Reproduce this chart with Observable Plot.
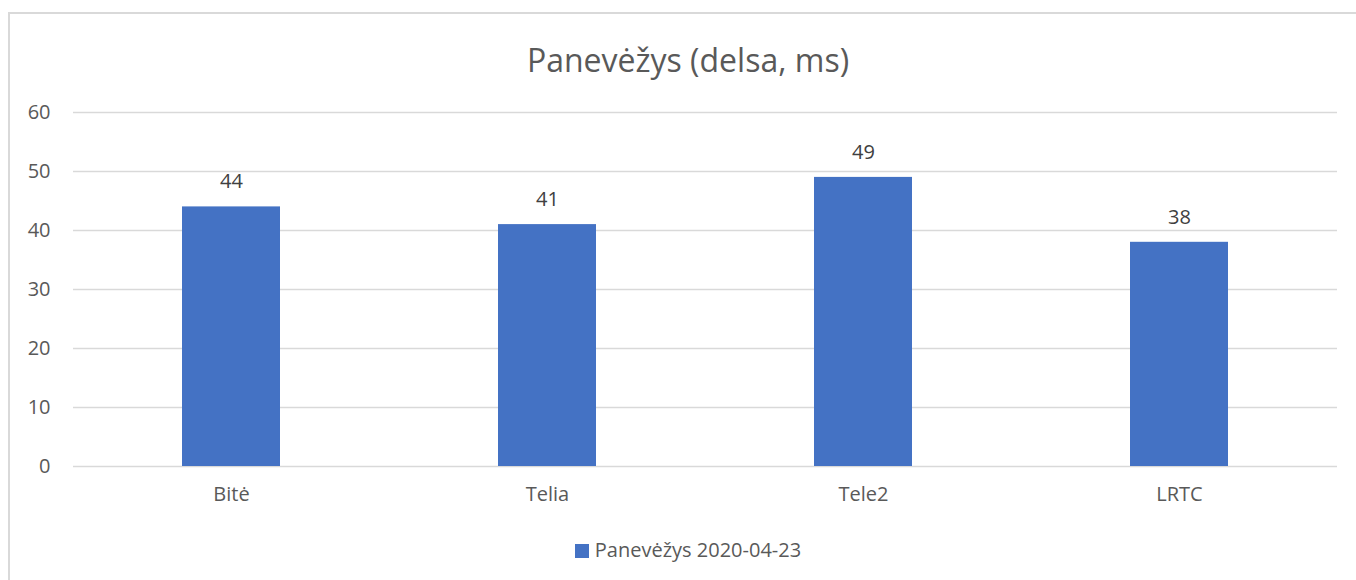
<!DOCTYPE html>
<html>
<head>
<meta charset="utf-8">
<script src="https://cdn.jsdelivr.net/npm/d3@7"></script>
<script src="https://cdn.jsdelivr.net/npm/@observablehq/plot@0.6"></script>
<style>
  html, body { margin: 0; padding: 0; background: #fff; }
  #wrap { position: relative; width: 1356px; height: 580px; overflow: hidden; font-family: "Open Sans", sans-serif; color: #595959; }
  #frame { position: absolute; left: 8px; top: 12px; width: 1400px; height: 600px; border-left: 2px solid #d9d9d9; border-top: 2px solid #d9d9d9; box-sizing: border-box; }
  #title { position: absolute; left: 0; width: 1376px; top: 38px; text-align: center; font-size: 32px; line-height: 44px; color: #595959; }
  #chart { position: absolute; left: 0; top: 82px; }
  #legend { position: absolute; left: 0; width: 1376px; top: 536px; text-align: center; font-size: 20px; line-height: 28px; color: #595959; }
  #legend .sw { display: inline-block; width: 14px; height: 14px; background: #4472C4; margin-right: 6px; vertical-align: -1px; }
</style>
</head>
<body>
<div id="wrap">
  <div id="frame"></div>
  <div id="title">Panevėžys (delsa, ms)</div>
  <div id="chart"></div>
  <div id="legend"><span class="sw"></span>Panevėžys 2020-04-23</div>
</div>
<script>
const operators = ["Bitė", "Telia", "Tele2", "LRTC"];
const latency = [44, 41, 49, 38];
const yTicks = [0, 10, 20, 30, 40, 50, 60];
const seriesName = "Panevėžys 2020-04-23";

const data = operators.map((op, i) => ({op, v: latency[i]}));

const chart = Plot.plot({
  width: 1356,
  height: 438,
  marginTop: 30,
  marginBottom: 54,
  marginLeft: 73,
  marginRight: 19,
  style: {fontFamily: "'Open Sans', sans-serif", fontSize: "20px", color: "#595959", background: "transparent", overflow: "visible"},
  x: {domain: operators, paddingInner: 0.69, paddingOuter: 0.345, label: null, tickSize: 0, tickPadding: 21},
  y: {domain: [0, 60], ticks: yTicks, label: null, tickSize: 0, tickPadding: 23},
  marks: [
    Plot.gridY(yTicks, {stroke: "#d9d9d9", strokeOpacity: 1, strokeWidth: 1.5}),
    Plot.barY(data, {x: "op", y: "v", fill: "#4472C4"}),
    Plot.text(data, {x: "op", y: "v", text: d => String(d.v), dy: -25, fill: "#404040", fontSize: 20}),
    Plot.axisX({tickSize: 0, tickPadding: 20, fontSize: 20}),
    Plot.axisY({ticks: yTicks, tickSize: 0, tickPadding: 23, fontSize: 20})
  ]
});
document.getElementById("chart").appendChild(chart);
</script>
</body>
</html>
